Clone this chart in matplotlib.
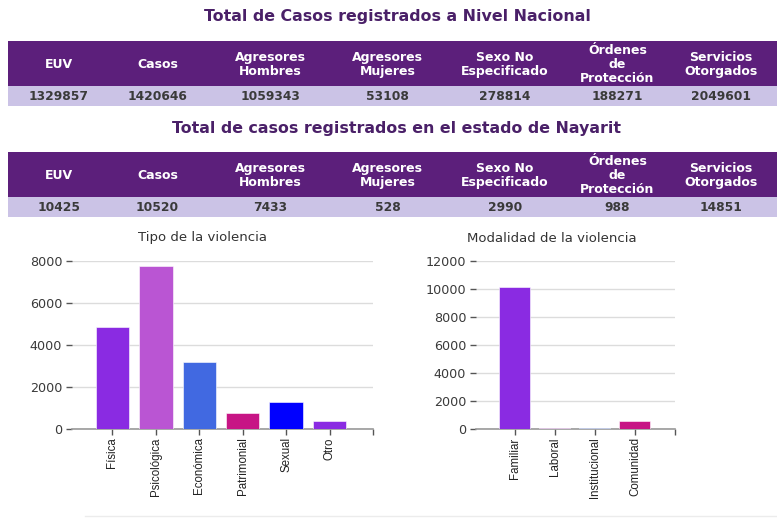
import matplotlib
matplotlib.use("Agg")
import matplotlib.pyplot as plt
from matplotlib.patches import Rectangle
from matplotlib.ticker import FixedLocator

# ---------------- data ----------------
headers = ["EUV", "Casos", "Agresores\nHombres", "Agresores\nMujeres",
           "Sexo No\nEspecificado", "Órdenes\nde\nProtección", "Servicios\nOtorgados"]
nacional = ["1329857", "1420646", "1059343", "53108", "278814", "188271", "2049601"]
nayarit = ["10425", "10520", "7433", "528", "2990", "988", "14851"]
title_nacional = "Total de Casos registrados a Nivel Nacional"
title_estado = "Total de casos registrados en el estado de Nayarit"

tipo_title = "Tipo de la violencia"
tipo_cats = ["Física", "Psicológica", "Económica", "Patrimonial", "Sexual", "Otro"]
tipo_vals = [4830, 7730, 3170, 760, 1280, 365]
tipo_colors = ["#8a2be2", "#ba55d3", "#4169e1", "#c71585", "#0000ff", "#8a2be2"]
tipo_yticks = [0, 2000, 4000, 6000, 8000]

mod_title = "Modalidad de la violencia"
mod_cats = ["Familiar", "Laboral", "Institucional", "Comunidad"]
mod_vals = [10100, 40, 50, 590]
mod_colors = ["#8a2be2", "#ba55d3", "#4169e1", "#c71585"]
mod_yticks = [0, 2000, 4000, 6000, 8000, 10000, 12000]

# ---------------- style ----------------
W, H = 777, 519
HEAD_BG = "#5c1f7b"
ROW_BG = "#cbc3e6"
TITLE_C = "#4a2068"
TXT_C = "#3a3a3a"

fig = plt.figure(figsize=(W / 100, H / 100), dpi=100)
bg = fig.add_axes([0, 0, 1, 1])
bg.set_xlim(0, W)
bg.set_ylim(H, 0)
bg.axis("off")

col_edges = [8, 110, 205, 335, 440, 570, 665, 777]


def draw_table(title, title_y, top, head_h, row_h, values, tsize):
    bg.text(397, title_y, title, ha="center", va="center", fontsize=tsize,
            fontweight="bold", color=TITLE_C, family="DejaVu Sans")
    bg.add_patch(Rectangle((col_edges[0], top), col_edges[-1] - col_edges[0], head_h,
                           facecolor=HEAD_BG, edgecolor="none"))
    bg.add_patch(Rectangle((col_edges[0], top + head_h), col_edges[-1] - col_edges[0], row_h,
                           facecolor=ROW_BG, edgecolor="none"))
    for i, (h, v) in enumerate(zip(headers, values)):
        cx = (col_edges[i] + col_edges[i + 1]) / 2
        bg.text(cx, top + head_h / 2 + 1, h, ha="center", va="center", fontsize=9.0,
                fontweight="bold", color="white", linespacing=1.1, family="DejaVu Sans")
        bg.text(cx, top + head_h + row_h / 2 + 0.5, v, ha="center", va="center", fontsize=8.8,
                fontweight="bold", color=TXT_C, family="DejaVu Sans")


draw_table(title_nacional, 17, 41, 45, 20, nacional, 11.4)
draw_table(title_estado, 128, 152, 45, 20, nayarit, 11.4)

# faint bottom line
bg.plot([85, 777], [516, 516], color="#ececec", lw=1)


def bar_chart(rect, title, cats, vals, colors, yticks, xlim, title_x):
    ax = fig.add_axes(rect)
    x = list(range(len(cats)))
    ax.bar(x, vals, width=0.77, color=colors, edgecolor="white", linewidth=0.4, zorder=3)
    ax.set_xlim(*xlim)
    ax.set_ylim(yticks[0], yticks[-1])
    ax.set_yticks(yticks)
    ax.set_yticklabels([str(t) for t in yticks], fontsize=9.2, color=TXT_C,
                       family="DejaVu Sans")
    ax.yaxis.grid(True, color="#dcdcdc", lw=1, zorder=0)
    ax.set_xticks(x)
    ax.set_xticklabels(cats, rotation=90, fontsize=8.3, color="#222222",
                       family=["Liberation Sans Narrow", "Liberation Sans"])
    ax.xaxis.set_minor_locator(FixedLocator([xlim[1]]))
    ax.tick_params(axis="x", which="both", length=4, width=1, color="#555555", pad=2)
    ax.tick_params(axis="y", length=4, width=1, color="#555555", pad=3)
    for s in ["top", "right", "left"]:
        ax.spines[s].set_visible(False)
    ax.spines["bottom"].set_color("#999999")
    ax.spines["bottom"].set_linewidth(1.2)
    ax.set_facecolor("none")
    bg.text(title_x, 238, title, ha="center", va="center", fontsize=9.5,
            color="#333333", family="DejaVu Sans")
    return ax


y0 = (H - 429) / H
hgt = 168.3 / H
bar_chart([72 / W, y0, 301 / W, hgt], tipo_title, tipo_cats, tipo_vals, tipo_colors,
          tipo_yticks, (-0.93, 6.0), 202)
bar_chart([476 / W, y0, 199 / W, hgt], mod_title, mod_cats, mod_vals, mod_colors,
          mod_yticks, (-0.96, 4.0), 552)

fig.savefig("out.png", dpi=100, facecolor="white")
